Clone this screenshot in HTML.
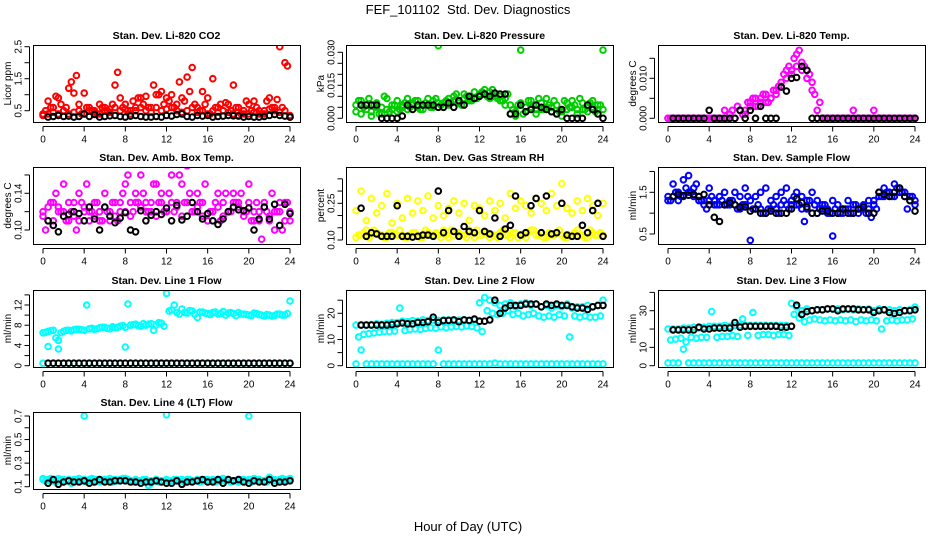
<!DOCTYPE html>
<html><head><meta charset="utf-8"><style>
html,body{margin:0;padding:0;background:#fff;}
svg{display:block;font-family:"Liberation Sans",Arial,sans-serif;}
</style></head><body>
<svg id="chart" width="936" height="540" viewBox="0 0 936 540" xmlns="http://www.w3.org/2000/svg">
<rect width="936" height="540" fill="#fff"/>
<text x="468" y="14" text-anchor="middle" font-size="13">FEF_101102&#160; Std. Dev. Diagnostics</text>
<text x="468" y="531" text-anchor="middle" font-size="13">Hour of Day (UTC)</text>
</svg>
<script>
// x tick labels
const xTicks = [0,4,8,12,16,20,24];

// Panel 1: CO2
const co2A = [0.4,0.8,0.6,0.9,0.5,1.2,1.05,0.7,1.05,0.6,0.5,0.7,0.6,0.55,1.3,0.9,0.7,0.5,0.6,0.9,0.95,0.6,1.0,1.1,0.9,1.0,0.7,0.9,1.55,1.85,0.6,1.1,0.9,1.5,0.6,0.5,0.7,1.3,0.6,0.5,0.7,0.8,0.4,0.5,0.9,0.6,2.5,2.0,0.3];
const co2B = [0.5,0.6,0.95,0.7,0.6,1.4,1.6,0.4,0.6,0.5,0.4,0.6,0.5,0.7,1.7,0.6,0.5,0.8,0.9,0.7,0.6,1.3,1.0,0.7,0.8,0.6,1.4,0.8,1.1,0.7,0.5,0.7,0.4,0.6,0.7,0.75,0.5,0.6,0.4,0.8,0.5,0.6,0.4,0.8,0.6,0.85,0.6,1.9];
const co2C = [0.35,0.4,0.45,0.4,0.5,0.4,0.45,0.5,0.4,0.5,0.45,0.4,0.5,0.45,0.6,0.5,0.55,0.4,0.5,0.6,0.5,0.45,0.6,0.5,0.55,0.6,0.5,0.45,0.5,0.6,0.45,0.5,0.4,0.5,0.45,0.5,0.45,0.4,0.35,0.4,0.4,0.45,0.5,0.4,0.55,0.5,0.45,0.5,0.35];
const co2K = [0.3,0.32,0.35,0.32,0.33,0.3,0.32,0.4,0.32,0.38,0.3,0.32,0.34,0.35,0.32,0.3,0.33,0.35,0.32,0.3,0.3,0.32,0.3,0.35,0.33,0.38,0.4,0.32,0.3,0.35,0.33,0.35,0.3,0.32,0.33,0.35,0.34,0.33,0.3,0.32,0.3,0.3,0.32,0.35,0.38,0.35,0.33,0.3];
const co2Ticks = [0.5,1.0,1.5,2.0,2.5];
const co2Labels = ["0.5","","1.5","","2.5"];

// Panel 2: Pressure
const prA = [0.006,0.008,0.004,0.003,0.007,0.005,0.009,0.004,0.008,0.006,0.009,0.007,0.008,0.006,0.009,0.008,0.033,0.007,0.009,0.010,0.008,0.011,0.009,0.012,0.011,0.013,0.012,0.011,0.010,0.009,0.006,0.003,0.007,0.005,0.008,0.004,0.007,0.009,0.005,0.006,0.003,0.007,0.008,0.004,0.007,0.005,0.008,0.006,0.004];
const prB = [0.008,0.005,0.009,0.006,0.002,0.010,0.003,0.006,0.004,0.007,0.005,0.008,0.004,0.007,0.005,0.009,0.006,0.008,0.007,0.011,0.006,0.010,0.008,0.009,0.012,0.010,0.013,0.009,0.008,0.011,0.004,0.006,0.002,0.008,0.006,0.009,0.004,0.006,0.008,0.003,0.008,0.005,0.006,0.009,0.004,0.007,0.003,0.006];
const prC = [0.003,0.002,0.006,0.001,0.005,0.002,0.004,0.006,0.003,0.005,0.004,0.006,0.005,0.004,0.006,0.005,0.007,0.005,0.006,0.008,0.007,0.009,0.008,0.009,0.010,0.011,0.009,0.010,0.008,0.006,0.002,0.001,0.031,0.003,0.005,0.002,0.004,0.005,0.003,0.002,0.001,0.004,0.005,0.002,0.004,0.003,0.005,0.004,0.031];
const prK = [0.006,0.006,0.006,0.006,0.0,0.0,0.0,0.0,0.001,0.006,0.004,0.006,0.006,0.006,0.006,0.005,0.005,0.007,0.005,0.008,0.006,0.010,0.009,0.010,0.011,0.010,0.0115,0.011,0.011,0.002,0.002,0.006,0.003,0.004,0.006,0.005,0.004,0.003,0.002,0.004,0.0,0.0,0.0,0.0,0.006,0.004,0.002,0.0];
const prTicks = [0,0.005,0.010,0.015,0.020,0.025,0.030];
const prLabels = ["0.000","","","0.015","","","0.030"];

// Panel 3: Li-820 Temp
const ltA = [0,0,0,0,0,0,0,0,0,0,0,0.002,0,0,0.002,0.001,0.003,0.005,0.004,0.006,0.005,0.006,0.009,0.010,0.012,0.016,0.014,0.012,0.009,0.002,0,0,0,0,0,0,0.002,0,0,0,0.002,0,0,0,0,0,0,0,0];
const ltB = [0,0,0,0,0,0,0,0,0,0,0,0,0.002,0.003,0.001,0.004,0.005,0.003,0.006,0.004,0.007,0.008,0.011,0.013,0.015,0.017,0.013,0.011,0.006,0.004,0,0,0,0,0,0,0,0,0,0,0,0,0,0,0,0,0,0];
const ltC = [0,0,0,0,0,0,0,0,0,0,0,0,0.001,0,0.002,0.002,0.004,0.003,0.005,0.004,0.005,0.007,0.008,0.012,0.011,0.013,0.012,0.010,0.007,0,0,0,0,0,0,0,0,0,0,0,0,0,0,0,0,0,0,0,0];
const ltK = [0,0,0,0,0,0,0,0.002,0,0,0,0,0,0.002,0,0.002,0,0.003,0,0,0,0.0078,0.0068,0.01,0.0102,0.013,0.012,0,0,0,0,0,0,0,0,0,0,0,0,0,0,0,0,0,0,0,0,0];
const ltTicks = [0,0.005,0.010,0.015];
const ltLabels = ["0.000","","0.010",""];

// Panel 4: Amb Box Temp
const abA = [0.12,0.11,0.13,0.12,0.15,0.11,0.13,0.14,0.12,0.11,0.13,0.12,0.14,0.11,0.13,0.12,0.15,0.13,0.14,0.16,0.12,0.13,0.15,0.14,0.12,0.16,0.13,0.15,0.17,0.12,0.14,0.13,0.11,0.12,0.14,0.13,0.12,0.14,0.13,0.12,0.15,0.11,0.12,0.13,0.11,0.10,0.12,0.13,0.11];
const abB = [0.10,0.13,0.14,0.12,0.11,0.12,0.10,0.13,0.15,0.12,0.13,0.11,0.12,0.13,0.11,0.14,0.16,0.12,0.13,0.14,0.12,0.15,0.13,0.12,0.14,0.12,0.16,0.13,0.14,0.12,0.13,0.15,0.12,0.13,0.11,0.14,0.12,0.13,0.14,0.12,0.11,0.13,0.09,0.12,0.14,0.12,0.10,0.13];
const abC = [0.115,0.125,0.11,0.125,0.12,0.13,0.115,0.11,0.125,0.12,0.115,0.11,0.125,0.12,0.115,0.13,0.12,0.115,0.13,0.125,0.13,0.12,0.115,0.13,0.12,0.13,0.125,0.115,0.13,0.12,0.125,0.115,0.11,0.12,0.125,0.115,0.12,0.13,0.125,0.115,0.13,0.12,0.11,0.125,0.115,0.12,0.13,0.11,0.12];
const abK = [0.11,0.105,0.098,0.115,0.117,0.12,0.118,0.11,0.125,0.112,0.1,0.125,0.115,0.108,0.113,0.119,0.1,0.098,0.121,0.11,0.116,0.12,0.117,0.124,0.11,0.127,0.111,0.115,0.13,0.12,0.112,0.118,0.11,0.106,0.112,0.12,0.125,0.122,0.121,0.124,0.1,0.112,0.125,0.112,0.128,0.105,0.128,0.118];
const abTicks = [0.10,0.12,0.14,0.16];
const abLabels = ["0.10","","0.14",""];

// Panel 5: Gas Stream RH
const rhA = [0.22,0.30,0.18,0.27,0.21,0.24,0.29,0.17,0.25,0.19,0.27,0.21,0.26,0.22,0.28,0.19,0.24,0.20,0.23,0.26,0.21,0.25,0.18,0.24,0.23,0.20,0.26,0.22,0.25,0.19,0.29,0.23,0.26,0.24,0.21,0.27,0.25,0.22,0.29,0.24,0.33,0.23,0.21,0.26,0.22,0.27,0.24,0.20,0.25];
const rhB = [0.12,0.13,0.11,0.14,0.12,0.11,0.13,0.12,0.14,0.11,0.12,0.13,0.11,0.14,0.12,0.13,0.11,0.12,0.14,0.13,0.12,0.11,0.13,0.14,0.12,0.13,0.12,0.11,0.14,0.12,0.13,0.11,0.12,0.13,0.14,0.12,0.11,0.13,0.12,0.14,0.11,0.12,0.13,0.12,0.11,0.14,0.12,0.13];
const rhC = [0.11,0.12,0.14,0.12,0.13,0.12,0.11,0.13,0.12,0.12,0.11,0.13,0.12,0.11,0.13,0.12,0.12,0.14,0.11,0.12,0.13,0.12,0.14,0.11,0.12,0.13,0.11,0.12,0.13,0.12,0.11,0.13,0.12,0.11,0.14,0.12,0.13,0.11,0.12,0.13,0.12,0.11,0.12,0.14,0.12,0.11,0.13,0.12,0.12];
const rhK = [0.23,0.115,0.13,0.125,0.115,0.115,0.115,0.24,0.115,0.115,0.112,0.115,0.12,0.12,0.115,0.3,0.13,0.22,0.135,0.115,0.155,0.135,0.13,0.22,0.135,0.125,0.19,0.115,0.145,0.16,0.28,0.12,0.13,0.24,0.27,0.13,0.28,0.125,0.13,0.25,0.12,0.115,0.115,0.16,0.13,0.22,0.25,0.115];
const rhTicks = [0.10,0.15,0.20,0.25,0.30,0.35];
const rhLabels = ["0.10","","","0.25","",""];

// Panel 6: Sample Flow
const sfA = [1.4,1.7,1.5,1.8,1.9,1.6,1.4,1.3,1.6,1.3,1.4,1.5,1.3,1.5,1.4,1.6,1.3,1.4,1.5,1.6,1.3,1.4,1.5,1.6,1.2,1.5,1.4,1.3,1.5,1.3,1.2,1.1,1.3,1.2,1.1,1.3,1.2,1.1,1.2,1.3,1.3,1.5,1.6,1.5,1.7,1.6,1.5,1.4,1.2];
const sfB = [1.3,1.5,1.4,1.6,1.5,1.7,1.3,1.1,1.4,1.2,1.3,1.2,1.3,1.1,1.2,1.4,1.1,1.2,1.0,1.1,1.2,1.0,1.3,1.1,1.4,1.2,0.8,1.3,1.2,1.1,1.2,1.0,1.1,1.0,1.1,1.0,1.2,1.1,1.0,0.9,1.1,1.4,1.5,1.4,1.6,1.5,1.1,1.4];
const sfC = [1.3,1.4,1.3,1.4,1.5,1.4,1.3,1.2,1.3,1.2,1.2,1.2,1.2,1.2,1.1,1.2,0.35,1.1,1.1,1.0,1.1,1.1,1.2,1.2,1.3,1.2,1.1,1.1,1.0,1.0,1.1,1.0,0.45,1.0,1.0,1.1,1.0,1.0,1.1,1.1,1.2,1.4,1.4,1.5,1.4,1.5,1.4,1.3,1.3];
const sfK = [1.4,1.45,1.42,1.43,1.45,1.4,1.45,1.2,0.9,0.8,1.2,1.25,1.2,1.15,1.15,1.05,1.1,1.0,1.0,1.05,1.0,1.0,1.0,1.1,1.35,1.25,1.15,1.0,1.0,1.05,1.05,1.0,1.0,1.1,1.0,1.0,1.1,1.15,1.0,1.0,1.5,1.45,1.4,1.5,1.6,1.4,1.3,1.05];
const sfTicks = [0.5,1.0,1.5,2.0];
const sfLabels = ["0.5","","1.5",""];

// Panel 7: Line 1 Flow
const l1A = [6.5,6.8,7.0,5.0,6.8,7.0,7.1,7.2,7.0,7.3,7.2,7.5,7.6,7.3,7.5,7.8,7.6,8.0,8.2,7.8,8.0,8.3,8.1,8.4,14.3,11.0,10.5,11.2,10.4,10.8,9.5,10.6,10.3,10.5,10.2,10.7,10.4,10.3,10.5,10.2,10.0,10.4,10.1,9.8,10.0,9.9,10.2,10.0,12.8];
const l1B = [6.6,6.9,5.5,6.5,7.0,6.9,7.2,7.1,12.0,7.4,7.3,7.6,7.4,7.7,7.6,7.9,12.2,8.1,7.9,8.3,8.2,7.0,8.5,7.8,10.8,12.0,10.2,10.5,10.9,10.2,10.6,10.4,10.1,10.6,10.3,10.0,10.5,9.9,10.2,10.1,9.9,10.3,10.0,10.1,9.8,10.2,10.0,10.3];
const l1C = [0.5,3.8,0.5,3.3,0.5,0.5,0.5,0.5,0.5,0.5,0.5,0.5,0.5,0.5,0.5,0.5,3.7,0.5,0.5,0.5,0.5,0.5,0.5,0.5,0.5,0.5,0.5,0.5,0.5,0.5,0.5,0.5,0.5,0.5,0.5,0.5,0.5,0.5,0.5,0.5,0.5,0.5,0.5,0.5,0.5,0.5,0.5,0.5,0.5];
const l1K = [0.5,0.5,0.5,0.5,0.5,0.5,0.5,0.5,0.5,0.5,0.5,0.5,0.5,0.5,0.5,0.5,0.5,0.5,0.5,0.5,0.5,0.5,0.5,0.5,0.5,0.5,0.5,0.5,0.5,0.5,0.5,0.5,0.5,0.5,0.5,0.5,0.5,0.5,0.5,0.5,0.5,0.5,0.5,0.5,0.5,0.5,0.5,0.5];
const l1Ticks = [0,2,4,6,8,10,12,14];
const l1Labels = ["0","","4","","8","","12",""];

// Panel 8: Line 2 Flow
const l2A = [15.5,15.5,15.5,15.7,16,15.8,16.2,16.5,16.5,17,16.8,17.2,17,17.5,17.2,17.5,17.3,17.5,17.5,17.2,17.4,17.5,17.3,17.5,24,26,25,24,23,23.5,24,22.5,23.5,24,23,23.5,22.5,23,22,23,22.5,23.5,22,22.5,22.5,23,22.5,23,25];
const l2B = [11,12,12.2,12.5,12.8,13,13,13.2,22,13.4,13.8,14,13.8,14.2,14.5,14.3,14.8,14.5,14.8,15,14.8,15.2,15,14.5,13,21,20,19.5,20,21,19.5,20,19,19.5,20,19,18.5,19,18.5,19.5,19,11,19,18.5,19,18.5,18.5,19];
const l2C = [0.7,6.0,0.7,0.7,0.7,0.7,0.7,0.7,0.7,0.7,0.7,0.7,0.7,0.7,0.7,0.7,6.0,0.7,0.7,0.7,0.7,0.7,0.7,0.7,0.7,0.7,0.7,1.0,0.7,0.7,0.7,0.7,0.7,0.7,0.7,0.7,0.7,0.7,0.7,0.7,0.7,0.7,0.7,0.7,0.7,0.7,0.7,0.7,0.7];
const l2K = [15.5,15.5,15.5,15.5,15.5,15.5,15.7,16,16.3,16,16,16.5,16.5,16.8,18.5,16.5,17.2,17.3,17.5,16.8,17.5,17.3,17.8,17,17,17.5,25,20,22,23,23,23,23.5,23.5,23.5,22.5,23.5,23,23.5,23,23,22.5,22,22,21.5,22.5,23,23];
const l2Ticks = [0,5,10,15,20,25];
const l2Labels = ["0","","10","","20",""];

// Panel 9: Line 3 Flow
const l3A = [20,20,20,20.5,20.5,21,20.5,21,21.5,21.5,21.5,22,21.5,22,22,22,22,22,22,22,22,22,22,22,34,32,30,31,30,30.5,30.5,31,31,31,30.5,31,30.5,31,30.5,31,30,31,30.5,30.5,30,30.5,30,30.5,32];
const l3B = [14,14.5,15,13,15.5,15,15.5,15.5,29.5,15.5,16,16,16.5,16,25.5,16.5,29,16.5,17,17,16.5,17,17,16.5,28,26,24,25,25.5,25,24.5,25,24.5,25,24.5,25,24,25,24.5,25,24.5,20,24.5,25,24.5,25,25,25.5];
const l3C = [1.5,1.5,1.5,9,1.5,1.5,1.5,1.5,1.5,1.5,1.5,1.5,1.5,1.5,1.5,1.5,1.5,1.5,1.5,1.5,1.5,1.5,1.5,1.5,1.5,1.5,1.5,1.5,1.5,1.5,1.5,1.5,1.5,1.5,1.5,1.5,1.5,1.5,1.5,1.5,1.5,1.5,1.5,1.5,1.5,1.5,1.5,1.5,1.5];
const l3K = [19.5,19.5,19.5,19.5,19.5,21,20,20,20.5,20.5,20.5,20.5,23.5,21,21.5,21.5,21.5,21.5,21.5,21.5,21.5,21,21,21.5,33,28,29.5,30,30.5,30.5,31,31,30,31,31,31,30.5,30.5,30.5,29,30,30.5,29,28.5,29,30,30,30.5];
const l3Ticks = [0,10,20,30,40];
const l3Labels = ["0","10","","30",""];

// Panel 10: Line 4 (LT) Flow
const l4A = [0.17,0.16,0.15,0.17,0.14,0.16,0.15,0.17,0.70,0.16,0.15,0.14,0.16,0.17,0.15,0.16,0.17,0.15,0.16,0.14,0.15,0.13,0.16,0.15,0.71,0.14,0.15,0.16,0.14,0.15,0.16,0.15,0.14,0.16,0.15,0.17,0.16,0.15,0.14,0.16,0.70,0.17,0.16,0.15,0.18,0.16,0.15,0.16,0.17];
const l4B = [0.15,0.17,0.14,0.16,0.15,0.13,0.16,0.15,0.14,0.17,0.16,0.15,0.16,0.14,0.15,0.17,0.16,0.14,0.15,0.16,0.11,0.15,0.14,0.15,0.14,0.16,0.15,0.14,0.16,0.15,0.14,0.16,0.15,0.14,0.16,0.15,0.14,0.15,0.16,0.15,0.14,0.16,0.15,0.14,0.16,0.15,0.17,0.16];
const l4C = [0.16,0.15,0.16,0.15,0.16,0.15,0.16,0.15,0.16,0.15,0.16,0.15,0.16,0.15,0.16,0.15,0.16,0.15,0.16,0.15,0.16,0.15,0.16,0.15,0.16,0.15,0.16,0.15,0.16,0.15,0.16,0.15,0.16,0.15,0.16,0.15,0.16,0.15,0.16,0.15,0.16,0.15,0.16,0.15,0.16,0.15,0.16,0.15,0.16];
const l4K = [0.13,0.16,0.12,0.14,0.15,0.14,0.14,0.15,0.13,0.14,0.16,0.14,0.14,0.15,0.15,0.15,0.14,0.14,0.13,0.14,0.14,0.15,0.14,0.13,0.13,0.15,0.12,0.14,0.14,0.15,0.16,0.14,0.14,0.16,0.13,0.16,0.15,0.16,0.14,0.13,0.15,0.14,0.14,0.16,0.13,0.14,0.14,0.15];
const l4Ticks = [0.1,0.2,0.3,0.4,0.5,0.6,0.7];
const l4Labels = ["0.1","","0.3","","0.5","","0.7"];

const NS = "http://www.w3.org/2000/svg";
const svg = document.getElementById('chart');
const colL = [33,346,658], rowT = [45,167,290,412], W = 267, H = 77;

const panels = [
 {name:'co2',title:'Stan. Dev. Li-820 CO2',ylab:'Licor ppm',c:0,r:0,col:'#ff0000',v0:0.5,p0:110.7,v1:2.5,p1:46.7,ticks:co2Ticks,labs:co2Labels,A:co2A,B:co2B,C:co2C,K:co2K},
 {name:'pressure',title:'Stan. Dev. Li-820 Pressure',ylab:'kPa',c:1,r:0,col:'#00cd00',v0:0,p0:118.3,v1:0.03,p1:52.3,ticks:prTicks,labs:prLabels,A:prA,B:prB,C:prC,K:prK},
 {name:'li820-temp',title:'Stan. Dev. Li-820 Temp.',ylab:'degrees C',c:2,r:0,col:'#ff00ff',v0:0,p0:118.3,v1:0.01,p1:78.3,ticks:ltTicks,labs:ltLabels,A:ltA,B:ltB,C:ltC,K:ltK},
 {name:'amb-box-temp',title:'Stan. Dev. Amb. Box Temp.',ylab:'degrees C',c:0,r:1,col:'#ff00ff',v0:0.10,p0:230,v1:0.14,p1:193.3,ticks:abTicks,labs:abLabels,A:abA,B:abB,C:abC,K:abK},
 {name:'gas-stream-rh',title:'Stan. Dev. Gas Stream RH',ylab:'percent',c:1,r:1,col:'#ffff00',v0:0.10,p0:240,v1:0.25,p1:203.3,ticks:rhTicks,labs:rhLabels,A:rhA,B:rhB,C:rhC,K:rhK},
 {name:'sample-flow',title:'Stan. Dev. Sample Flow',ylab:'ml/min',c:2,r:1,col:'#0000ff',v0:0.5,p0:234,v1:1.5,p1:192.3,ticks:sfTicks,labs:sfLabels,A:sfA,B:sfB,C:sfC,K:sfK},
 {name:'line1-flow',title:'Stan. Dev. Line 1 Flow',ylab:'ml/min',c:0,r:2,col:'#00ffff',v0:0,p0:365.7,v1:12,p1:305,ticks:l1Ticks,labs:l1Labels,A:l1A,B:l1B,C:l1C,K:l1K},
 {name:'line2-flow',title:'Stan. Dev. Line 2 Flow',ylab:'ml/min',c:1,r:2,col:'#00ffff',v0:0,p0:365.7,v1:20,p1:313.3,ticks:l2Ticks,labs:l2Labels,A:l2A,B:l2B,C:l2C,K:l2K},
 {name:'line3-flow',title:'Stan. Dev. Line 3 Flow',ylab:'ml/min',c:2,r:2,col:'#00ffff',v0:0,p0:365.7,v1:30,p1:310.7,ticks:l3Ticks,labs:l3Labels,A:l3A,B:l3B,C:l3C,K:l3K},
 {name:'line4-flow',title:'Stan. Dev. Line 4 (LT) Flow',ylab:'ml/min',c:0,r:3,col:'#00ffff',v0:0.1,p0:486.7,v1:0.7,p1:416,ticks:l4Ticks,labs:l4Labels,A:l4A,B:l4B,C:l4C,K:l4K}
];

function mk(tag, attrs, parent){
  const e = document.createElementNS(NS, tag);
  for (const k in attrs) e.setAttribute(k, attrs[k]);
  (parent||svg).appendChild(e);
  return e;
}

panels.forEach(p => {
  const L = colL[p.c], T = rowT[p.r];
  const g = mk('g', {});
  
  
  const xs = t => L + 10 + t * (247/24);
  const ys = v => p.p0 + (v - p.v0) * (p.p1 - p.p0) / (p.v1 - p.v0);
  const cid = 'clip-' + p.name;
  const cp = mk('clipPath', {id: cid}, g);
  mk('rect', {x: L, y: T, width: W, height: H}, cp);
  const pts = mk('g', {'clip-path': 'url(#' + cid + ')', fill: 'none', 'stroke-width': 2}, g);
  
  
  const drawSeries = (arr, t0, color, nm) => {
    arr.forEach((v, i) => {
      if (v === null) return;
      const c = mk('circle', {cx: xs(t0 + i*0.5).toFixed(1), cy: ys(v).toFixed(1), r: 2.8, stroke: color}, pts);
      
      
    });
  };
  drawSeries(p.C, 0, p.col, p.name + '-point');
  drawSeries(p.B, 0.25, p.col, p.name + '-point');
  drawSeries(p.A, 0, p.col, p.name + '-point');
  drawSeries(p.K, 0.5, '#000', p.name + '-mean-point');
  const box = mk('rect', {x: L+0.5, y: T+0.5, width: W, height: H, fill: 'none', stroke: '#000', 'stroke-width': 1}, g);
  
  
  const tt = mk('text', {x: L + W/2, y: T - 6, 'text-anchor': 'middle', 'font-size': 10.5, 'font-weight': 'bold'}, g);
  tt.textContent = p.title;
  
  
  const yb = T + H + 0.5;
  const xa = mk('g', {stroke: '#000', 'stroke-width': 1}, g);
  
  
  mk('line', {x1: xs(0), y1: yb + 4, x2: xs(24), y2: yb + 4}, xa);
  xTicks.forEach(t => {
    mk('line', {x1: xs(t), y1: yb + 4, x2: xs(t), y2: yb + 9}, xa);
    const lb = mk('text', {x: xs(t), y: yb + 20, 'text-anchor': 'middle', 'font-size': 10, stroke: 'none'}, xa);
    lb.textContent = t;
    
    
  });
  const xl = L - 3.5;
  const ya = mk('g', {stroke: '#000', 'stroke-width': 1}, g);
  
  
  const tp = p.ticks.map(ys).filter(y => y >= T - 1 && y <= T + H + 1);
  mk('line', {x1: xl, y1: Math.min(...tp), x2: xl, y2: Math.max(...tp)}, ya);
  p.ticks.forEach((v, i) => {
    const y = ys(v);
    if (y < T - 1 || y > T + H + 1) return;
    mk('line', {x1: xl, y1: y, x2: xl - 5, y2: y}, ya);
    if (p.labs[i]) {
      const lb = mk('text', {x: 0, y: 0, 'text-anchor': 'middle', 'font-size': 10, stroke: 'none', transform: 'translate(' + (xl - 8) + ',' + y + ') rotate(-90)'}, ya);
      lb.textContent = p.labs[i];
      
      
    }
  });
  const yt = mk('text', {x: 0, y: 0, 'text-anchor': 'middle', 'font-size': 10, transform: 'translate(' + (L - 22) + ',' + (T + H/2) + ') rotate(-90)'}, g);
  yt.textContent = p.ylab;
  
  
});
</script>
</body></html>
